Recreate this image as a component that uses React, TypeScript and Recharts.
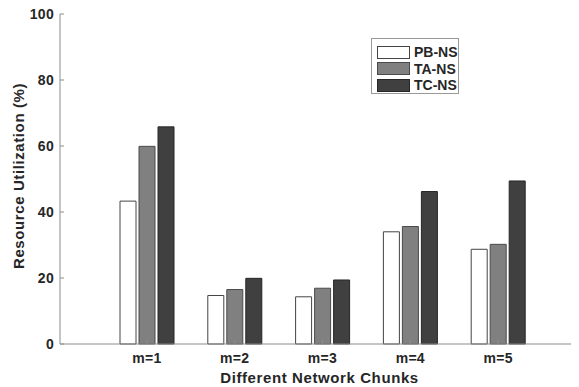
import React from "react";
import { BarChart, Bar, XAxis, YAxis, Legend } from "recharts";

const categories = ["m=1", "m=2", "m=3", "m=4", "m=5"];
const pbNs = [43.3, 14.7, 14.3, 34.0, 28.7];
const taNs = [59.9, 16.5, 16.9, 35.6, 30.2];
const tcNs = [65.8, 19.9, 19.4, 46.2, 49.4];
const yTicks = [0, 20, 40, 60, 80, 100];

const seriesInfo = [
  { key: "pb", name: "PB-NS", fill: "#ffffff", stroke: "#444444" },
  { key: "ta", name: "TA-NS", fill: "#808080", stroke: "#4a4a4a" },
  { key: "tc", name: "TC-NS", fill: "#404040", stroke: "#262626" },
];

const chartData = categories.map((cat, i) => ({
  cat,
  pb: pbNs[i],
  ta: taNs[i],
  tc: tcNs[i],
}));

const FONT = "'Liberation Sans', Arial, sans-serif";
const AXIS = "#8c8c8c";
const TEXT = "#262626";

const XTick = (props: any) => {
  const { x, y, payload } = props;
  return (
    <text x={x} y={y} dy="0.71em" textAnchor="middle" fontFamily={FONT} fontWeight="bold" fontSize={14} letterSpacing={0.3} fill={TEXT}>
      {payload.value}
    </text>
  );
};

const YTick = (props: any) => {
  const { x, y, payload } = props;
  return (
    <text x={x} y={y} dy="0.355em" textAnchor="end" fontFamily={FONT} fontWeight="bold" fontSize={14} letterSpacing={0.3} fill={TEXT}>
      {payload.value}
    </text>
  );
};

const LegendBox = () => (
  <div
    style={{
      width: 88,
      height: 56,
      border: "1px solid #999",
      background: "#fff",
      boxSizing: "border-box",
      padding: "5px 0 0 5px",
      fontFamily: FONT,
    }}
  >
    {seriesInfo.map((s) => (
      <div key={s.key} style={{ display: "flex", alignItems: "center", height: 16.5 }}>
        <div
          style={{
            width: 33,
            height: 13,
            background: s.fill,
            border: `1px solid ${s.stroke}`,
            boxSizing: "border-box",
          }}
        />
        <span style={{ marginLeft: 4, fontSize: 14, fontWeight: "bold", color: TEXT, lineHeight: "14px" }}>
          {s.name}
        </span>
      </div>
    ))}
  </div>
);

export default function App() {
  return (
    <div style={{ margin: "-8px 0 0 -8px", width: 579, height: 387, overflow: "hidden", background: "#fff" }}>
      <BarChart
        width={579}
        height={387}
        data={chartData}
        margin={{ top: 14, right: 0, left: 0, bottom: 0 }}
        barSize={16}
        barGap={3}
      >
        <XAxis
          dataKey="cat"
          height={43}
          padding={{ left: 43, right: 37 }}
          stroke={AXIS}
          tickSize={-4}
          tickMargin={13}
          tick={<XTick />}
          label={{
            value: "Different Network Chunks",
            position: "insideBottom",
            offset: 4,
            style: { fontFamily: FONT, fontWeight: "bold", fontSize: 15, letterSpacing: 0.6, fill: TEXT },
          }}
        />
        <XAxis
          xAxisId="top"
          dataKey="cat"
          orientation="top"
          height={0}
          padding={{ left: 43, right: 37 }}
          stroke={AXIS}
          tickSize={-4}
          tick={false}
        />
        <YAxis
          width={60}
          domain={[0, 100]}
          ticks={yTicks}
          stroke={AXIS}
          tickSize={-4}
          tickMargin={10}
          tick={<YTick />}
          label={{
            value: "Resource Utilization (%)",
            angle: -90,
            position: "insideLeft",
            offset: 0,
            content: (p: any) => {
              const vb = p.viewBox;
              const cx = vb.x + 24;
              const cy = vb.y + vb.height / 2 - 3;
              return (
                <text
                  x={cx}
                  y={cy}
                  transform={`rotate(-90, ${cx}, ${cy})`}
                  textAnchor="middle"
                  fontFamily={FONT}
                  fontWeight="bold"
                  fontSize={15}
                  letterSpacing={0.6}
                  fill={TEXT}
                >
                  Resource Utilization (%)
                </text>
              );
            },
          }}
        />
        <Legend
          layout="vertical"
          align="center"
          verticalAlign="middle"
          wrapperStyle={{ top: 38, left: 371, width: 88 }}
          content={() => <LegendBox />}
        />
        {seriesInfo.map((s) => (
          <Bar
            key={s.key}
            dataKey={s.key}
            name={s.name}
            fill={s.fill}
            stroke={s.stroke}
            strokeWidth={1}
            isAnimationActive={false}
          />
        ))}
      </BarChart>
    </div>
  );
}
